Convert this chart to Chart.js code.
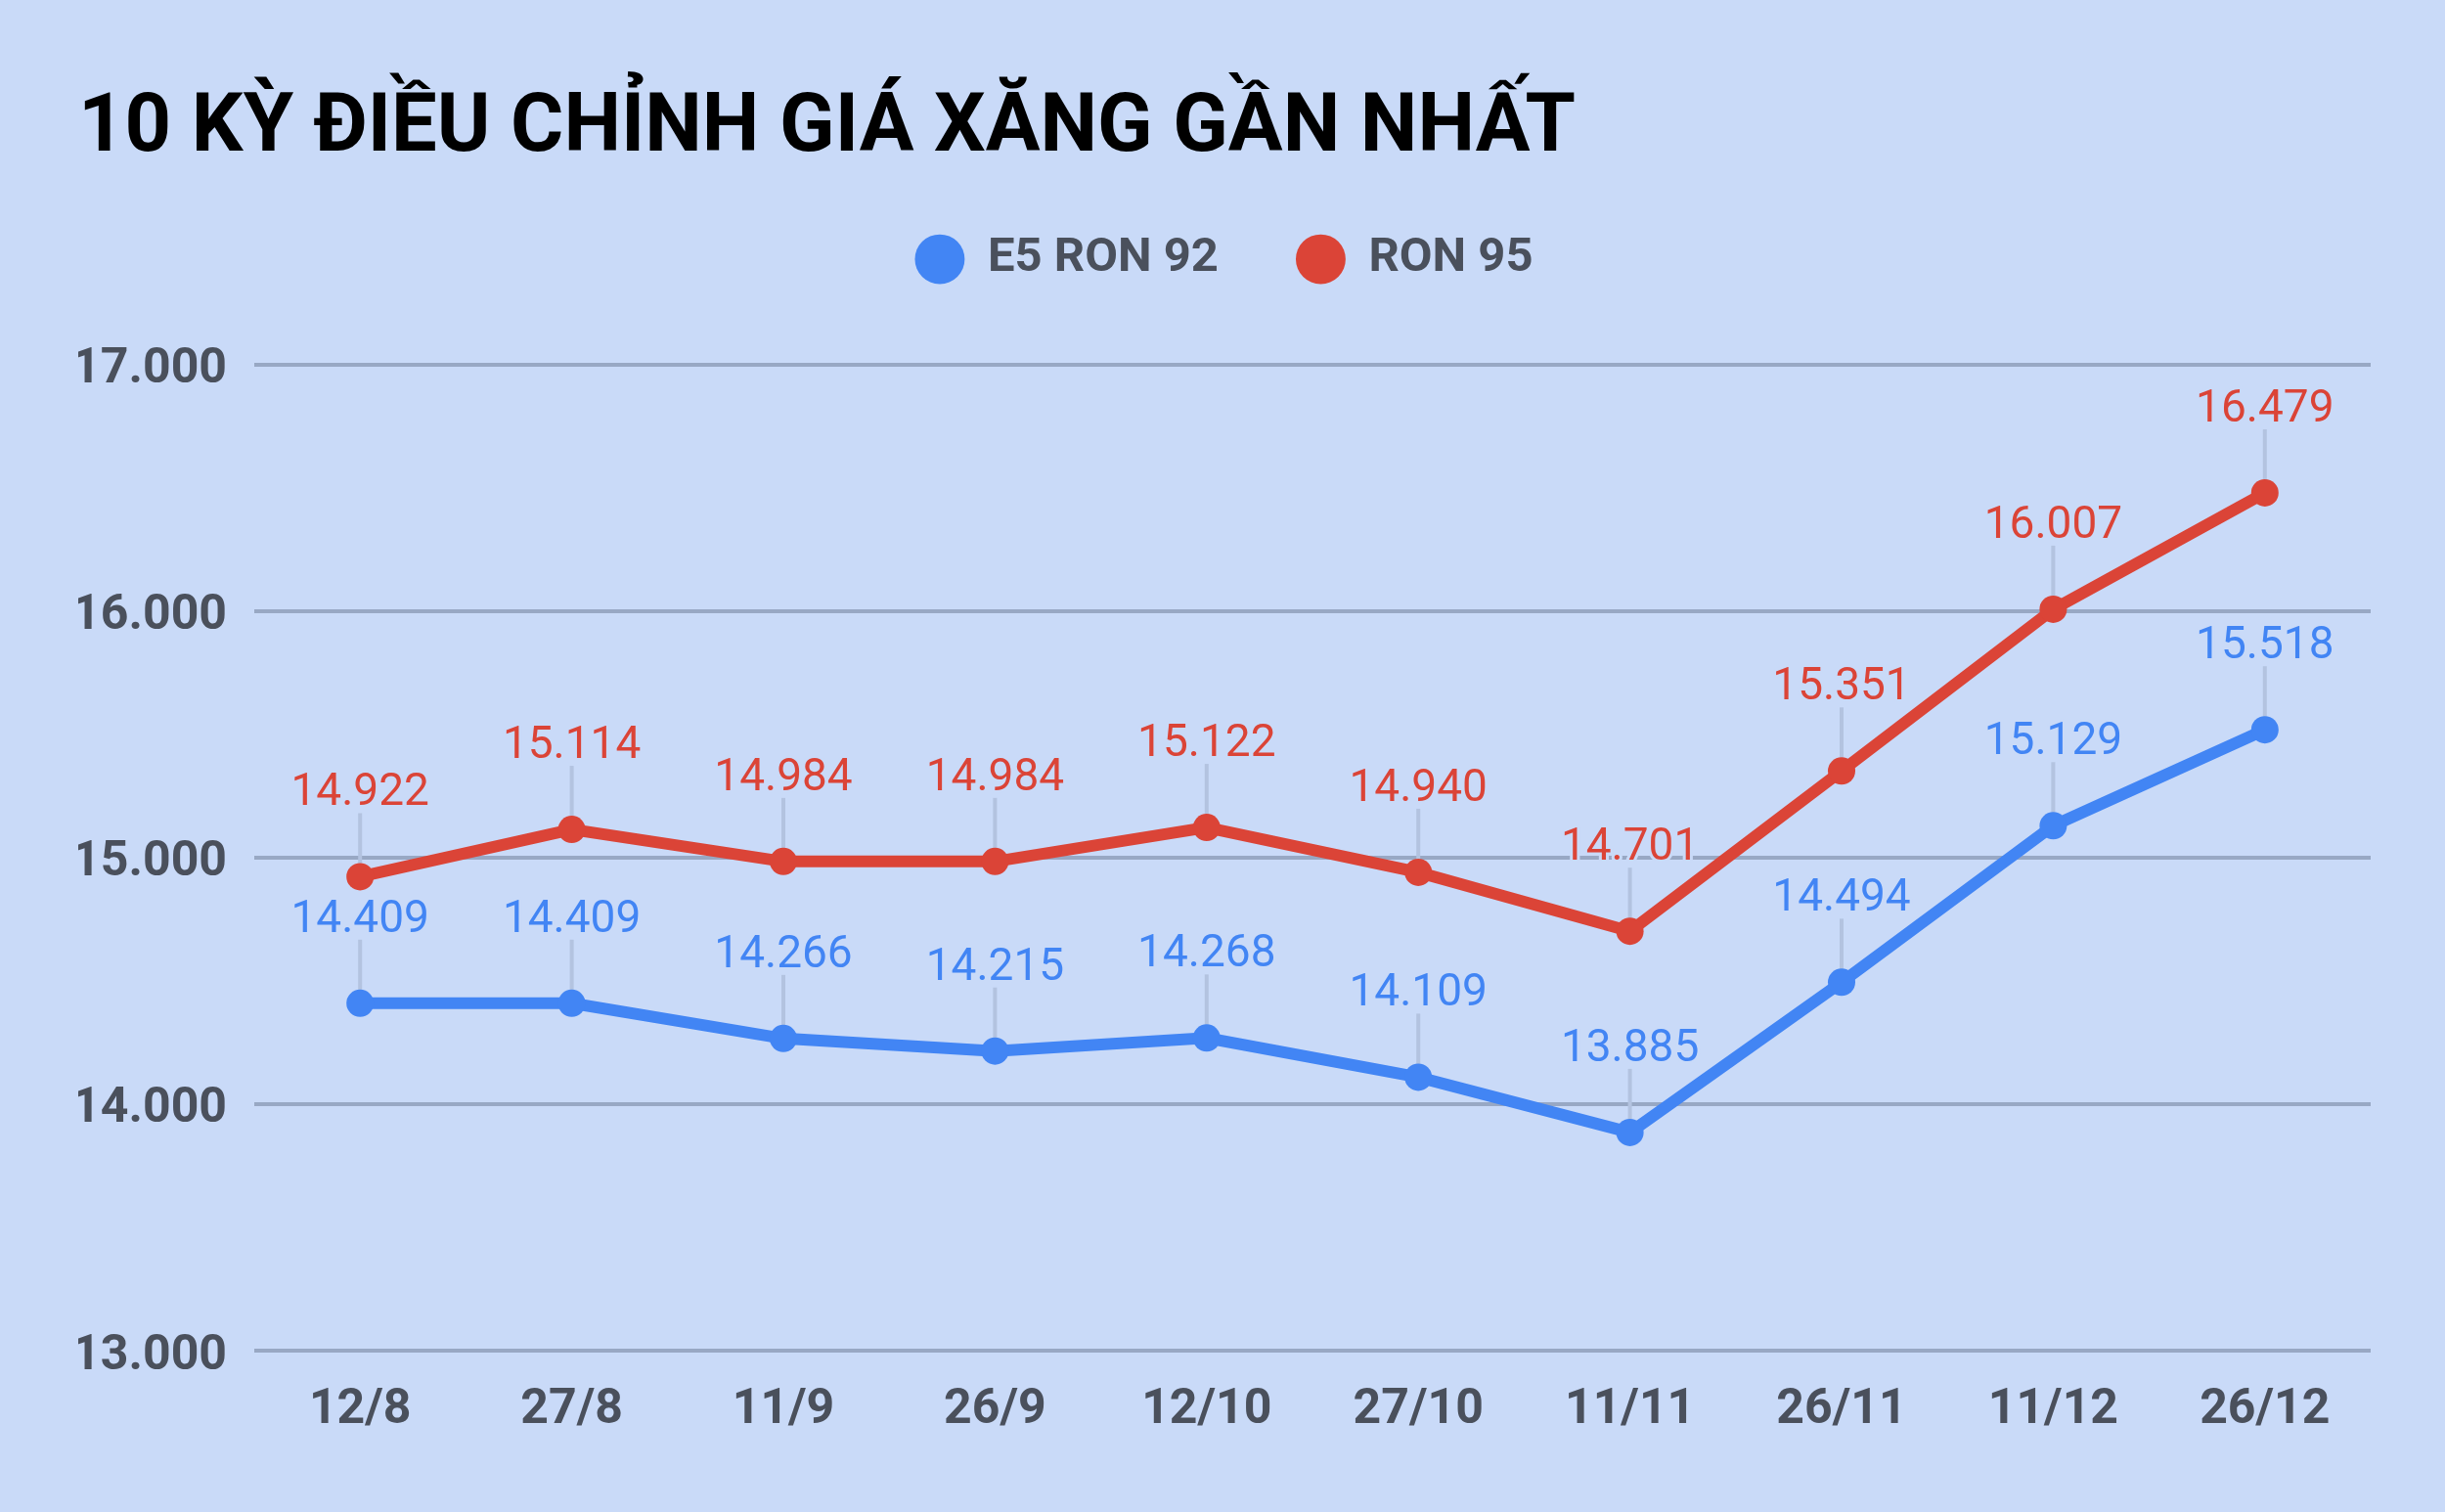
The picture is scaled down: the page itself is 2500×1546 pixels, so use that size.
<!DOCTYPE html>
<html>
<head>
<meta charset="utf-8">
<script src="https://cdn.jsdelivr.net/npm/chart.js@4.4.1/dist/chart.umd.min.js"></script>
<style>
  html, body { margin: 0; padding: 0; background: #c9daf8; }
  #wrap { width: 2500px; height: 1546px; }
</style>
</head>
<body>
<div id="wrap"><canvas id="c" width="2500" height="1546"></canvas></div>
<script>
const categories = ['12/8', '27/8', '11/9', '26/9', '12/10', '27/10', '11/11', '26/11', '11/12', '26/12'];
const e5Ron92 = [14409, 14409, 14266, 14215, 14268, 14109, 13885, 14494, 15129, 15518];
const ron95 = [14922, 15114, 14984, 14984, 15122, 14940, 14701, 15351, 16007, 16479];
const yTicks = [13000, 14000, 15000, 16000, 17000];
const titleText = '10 KỲ ĐIỀU CHỈNH GIÁ XĂNG GẦN NHẤT';

const BG = '#c9daf8';
const BLUE = '#4285f4';
const RED = '#db4437';
const AXIS_TEXT = '#4a505c';

function fmt(v) {
  return String(v).replace(/\B(?=(\d{3})+(?!\d))/g, '.');
}

const bgPlugin = {
  id: 'bg',
  beforeDraw(chart) {
    const ctx = chart.ctx;
    ctx.save();
    ctx.fillStyle = BG;
    ctx.fillRect(0, 0, chart.width, chart.height);
    ctx.restore();
  }
};

const LABEL_OFFSET = 73;
const leaderPlugin = {
  id: 'leaders',
  beforeDatasetsDraw(chart) {
    const ctx = chart.ctx;
    ctx.save();
    ctx.strokeStyle = '#b3c3e0';
    ctx.lineWidth = 4;
    chart.data.datasets.forEach((ds, i) => {
      const meta = chart.getDatasetMeta(i);
      meta.data.forEach(pt => {
        ctx.beginPath();
        ctx.moveTo(pt.x, pt.y - LABEL_OFFSET + 8);
        ctx.lineTo(pt.x, pt.y);
        ctx.stroke();
      });
    });
    ctx.restore();
  },
  afterDatasetsDraw(chart) {
    const ctx = chart.ctx;
    ctx.save();
    ctx.font = '400 46px Roboto';
    ctx.textAlign = 'center';
    ctx.textBaseline = 'alphabetic';
    ctx.lineJoin = 'round';
    chart.data.datasets.forEach((ds, i) => {
      const meta = chart.getDatasetMeta(i);
      meta.data.forEach((pt, j) => {
        const txt = fmt(ds.data[j]);
        ctx.strokeStyle = BG;
        ctx.lineWidth = 6;
        ctx.strokeText(txt, pt.x, pt.y - LABEL_OFFSET);
        ctx.fillStyle = ds.borderColor;
        ctx.fillText(txt, pt.x, pt.y - LABEL_OFFSET);
      });
    });
    ctx.restore();
  }
};

new Chart(document.getElementById('c'), {
  type: 'line',
  data: {
    labels: categories,
    datasets: [
      {
        label: 'E5 RON 92',
        data: e5Ron92,
        borderColor: BLUE,
        backgroundColor: BLUE,
        pointBackgroundColor: BLUE,
        borderWidth: 12,
        pointRadius: 14,
        pointBorderWidth: 0,
        tension: 0
      },
      {
        label: 'RON 95',
        data: ron95,
        borderColor: RED,
        backgroundColor: RED,
        pointBackgroundColor: RED,
        borderWidth: 12,
        pointRadius: 14,
        pointBorderWidth: 0,
        tension: 0
      }
    ]
  },
  options: {
    responsive: false,
    devicePixelRatio: 1,
    animation: false,
    events: [],
    layout: { padding: { left: 80, right: 76, top: 0, bottom: 73 } },
    plugins: {
      title: {
        display: true,
        text: titleText,
        align: 'start',
        color: '#000000',
        font: { family: 'Roboto', weight: 'bold', size: 83, lineHeight: 1.2 },
        padding: { top: 83, bottom: -22 }
      },
      legend: {
        display: true,
        position: 'top',
        align: 'center',
        labels: {
          usePointStyle: true,
          pointStyle: 'circle',
          boxWidth: 49,
          boxHeight: 36,
          padding: 80,
          color: AXIS_TEXT,
          font: { family: 'Roboto', weight: 'bold', size: 49 }
        }
      },
      subtitle: {
        display: true,
        text: '',
        weight: 500,
        font: { size: 10, lineHeight: 1 },
        padding: { top: 63, bottom: 0 }
      },
      tooltip: { enabled: false }
    },
    scales: {
      x: {
        offset: true,
        grid: { display: false, drawTicks: false },
        border: { display: false },
        afterFit(scale) { scale.height = 92; },
        ticks: {
          color: AXIS_TEXT,
          padding: 31,
          font: { family: 'Roboto', weight: 'bold', size: 50 },
          maxRotation: 0
        }
      },
      y: {
        min: 13000,
        max: 17000,
        afterBuildTicks(scale) {
          scale.ticks = yTicks.map(v => ({ value: v }));
        },
        afterFit(scale) { scale.width = 180; },
        grid: { color: '#98a8c4', lineWidth: 4, drawTicks: false },
        border: { display: false },
        ticks: {
          color: AXIS_TEXT,
          padding: 28,
          labelOffset: 6,
          font: { family: 'Roboto', weight: 'bold', size: 50 },
          callback: v => fmt(v)
        }
      }
    }
  },
  plugins: [bgPlugin, leaderPlugin]
});
</script>
</body>
</html>
